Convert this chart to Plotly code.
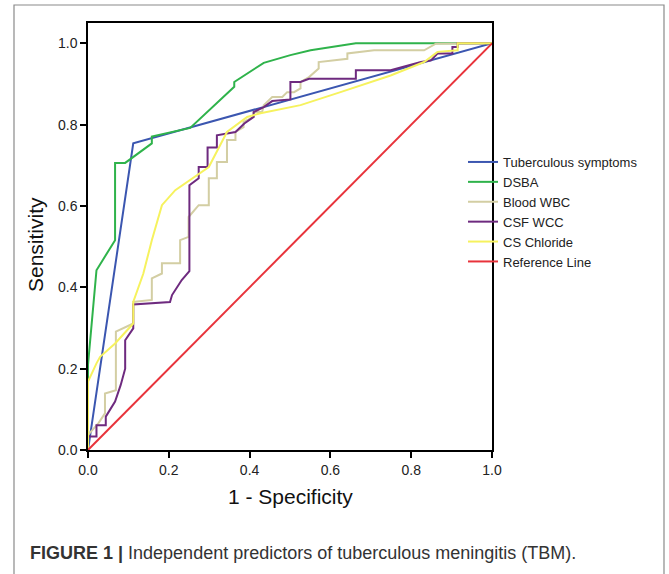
import plotly.graph_objects as go

# ROC curve data (1 - Specificity, Sensitivity)
tb_x = [0.0, 0.112, 1.0]
tb_y = [0.0, 0.754, 1.0]

dsba_x = [0.0, 0.0, 0.021, 0.067, 0.067, 0.092, 0.158, 0.158, 0.253, 0.362, 0.362, 0.435, 0.501, 0.551, 0.663, 1.0]
dsba_y = [0.0, 0.21, 0.442, 0.516, 0.706, 0.706, 0.754, 0.771, 0.792, 0.893, 0.905, 0.952, 0.971, 0.983, 1.0, 1.0]

wbc_x = [0.0, 0.0, 0.026, 0.042, 0.042, 0.069, 0.069, 0.112, 0.112, 0.158, 0.158, 0.183, 0.183, 0.228, 0.228, 0.249,
         0.249, 0.274, 0.299, 0.299, 0.319, 0.319, 0.344, 0.344, 0.365, 0.365, 0.385, 0.385, 0.41, 0.41, 0.431,
         0.435, 0.456, 0.481, 0.493, 0.51, 0.526, 0.526, 0.547, 0.571, 0.571, 0.642, 0.642, 0.708, 0.832, 0.861, 1.0]
wbc_y = [0.0, 0.037, 0.066, 0.09, 0.139, 0.147, 0.291, 0.311, 0.364, 0.369, 0.422, 0.434, 0.459, 0.459, 0.516, 0.524,
         0.573, 0.602, 0.602, 0.668, 0.668, 0.708, 0.708, 0.762, 0.762, 0.782, 0.794, 0.807, 0.819, 0.831, 0.831,
         0.848, 0.868, 0.868, 0.88, 0.88, 0.889, 0.905, 0.917, 0.938, 0.954, 0.962, 0.975, 0.983, 0.983, 0.999, 1.0]

wcc_x = [0.0, 0.0, 0.021, 0.021, 0.044, 0.044, 0.067, 0.081, 0.092, 0.092, 0.112, 0.112, 0.203, 0.208, 0.232,
         0.251, 0.251, 0.274, 0.274, 0.296, 0.296, 0.319, 0.319, 0.365, 0.387, 0.41, 0.41, 0.435, 0.456, 0.501,
         0.501, 0.526, 0.547, 0.663, 0.663, 0.749, 0.824, 0.849, 0.865, 0.902, 0.902, 0.915, 0.915, 0.956, 1.0]
wcc_y = [0.0, 0.033, 0.033, 0.061, 0.061, 0.082, 0.119, 0.16, 0.2, 0.27, 0.299, 0.358, 0.364, 0.381, 0.418,
         0.44, 0.651, 0.668, 0.696, 0.696, 0.744, 0.744, 0.774, 0.782, 0.803, 0.819, 0.831, 0.843, 0.858, 0.862,
         0.905, 0.905, 0.913, 0.913, 0.934, 0.934, 0.954, 0.958, 0.975, 0.975, 0.991, 0.991, 1.0, 1.0, 1.0]

cl_x = [0.0, 0.0, 0.021, 0.03, 0.067, 0.112, 0.112, 0.137, 0.158, 0.183, 0.216, 0.266, 0.299, 0.344, 0.394,
        0.427, 0.526, 0.625, 0.749, 0.832, 0.865, 0.915, 0.915, 1.0]
cl_y = [0.0, 0.168, 0.213, 0.229, 0.262, 0.311, 0.364, 0.434, 0.516, 0.602, 0.639, 0.674, 0.696, 0.782, 0.819,
        0.828, 0.848, 0.880, 0.921, 0.954, 0.979, 0.983, 1.0, 1.0]

ref_x = [0.0, 1.0]
ref_y = [0.0, 1.0]

names = ["Tuberculous symptoms", "DSBA", "Blood WBC", "CSF WCC", "CS Chloride", "Reference Line"]
colors = ["#3b56b0", "#2fb34b", "#d3cea3", "#6e2a7f", "#f6f25e", "#e8333b"]
xs = [tb_x, dsba_x, wbc_x, wcc_x, cl_x, ref_x]
ys = [tb_y, dsba_y, wbc_y, wcc_y, cl_y, ref_y]
tick_vals = [0, 0.2, 0.4, 0.6, 0.8, 1.0]
tick_text = ["0.0", "0.2", "0.4", "0.6", "0.8", "1.0"]

font = "Liberation Sans, Arial, sans-serif"

# plot area in pixels: left 88, right 492, top 23, bottom 450
L, R, T, B = 88, 492, 23, 450
W, H = 669, 574


def px(xp):
    return (xp - L) / (R - L)


def py(yp):
    return (B - yp) / (B - T)


fig = go.Figure()
for n, c, x, y in zip(names, colors, xs, ys):
    fig.add_trace(go.Scatter(x=x, y=y, mode="lines", name=n,
                             line=dict(color=c, width=2)))

fig.update_layout(
    width=W, height=H,
    margin=dict(l=L, r=W - R, t=T, b=H - B, autoexpand=False),
    paper_bgcolor="white", plot_bgcolor="white",
    showlegend=True,
    legend=dict(x=px(463), xanchor="left", y=py(147), yanchor="top",
                font=dict(family=font, size=13, color="#222"),
                bgcolor="rgba(0,0,0,0)", tracegroupgap=0, borderwidth=0),
    font=dict(family=font, color="#222"),
)
axis_common = dict(tickvals=tick_vals, ticktext=tick_text,
                   showgrid=False, zeroline=False, showline=True, linecolor="black", linewidth=1.5,
                   mirror=True, ticks="outside", ticklen=6, tickcolor="black", tickwidth=1.5,
                   tickfont=dict(family=font, size=14, color="#222"))
fig.update_xaxes(range=[0, 1], **axis_common)
fig.update_yaxes(range=[0, 1.05], **axis_common)

# axis titles
fig.add_annotation(text="1 - Specificity", x=0.5, y=py(497), xref="paper", yref="paper",
                   showarrow=False, yanchor="middle", xanchor="center",
                   font=dict(family=font, size=21, color="#111"))
fig.add_annotation(text="Sensitivity", x=px(35), y=py(245), xref="paper", yref="paper",
                   showarrow=False, textangle=-90, xanchor="center", yanchor="middle",
                   font=dict(family=font, size=21, color="#111"))

# caption
fig.add_annotation(text="<b>FIGURE 1 |</b> Independent predictors of tuberculous meningitis (TBM).",
                   x=px(28), y=py(553), xref="paper", yref="paper", showarrow=False,
                   xanchor="left", yanchor="middle",
                   font=dict(family=font, size=18, color="#333"))

# outer frame (decorative)
fig.add_shape(type="rect", xref="paper", yref="paper",
              x0=px(14), x1=px(664), y0=py(600), y1=py(5),
              line=dict(color="#8a8a8a", width=1.2), fillcolor="rgba(0,0,0,0)", layer="below")

fig.write_html("out.html", config={"displayModeBar": False},
               post_script="document.body.style.margin='0px';")
